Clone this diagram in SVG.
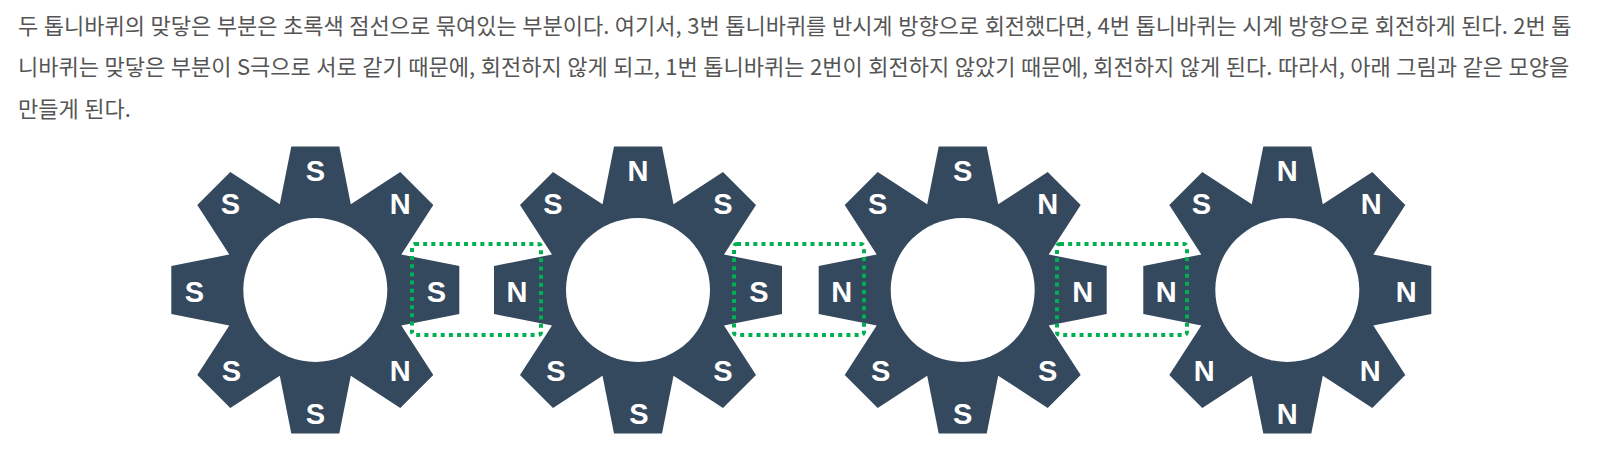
<svg xmlns="http://www.w3.org/2000/svg" width="1602" height="454" viewBox="0 0 1602 454">
<style>
.t{font-family:"Noto Sans CJK KR","Noto Sans",sans-serif;font-size:22px;word-spacing:0.6px;fill:#555}
.g{fill:#35495e}
.h{fill:#fff}
.l{font-family:"Liberation Sans",Arial,sans-serif;font-size:29px;font-weight:700;fill:#fff;text-anchor:middle}
.d{fill:none;stroke:#00b050;stroke-width:4;stroke-dasharray:4 4.17}
</style>
<defs>
<path id="gear" d="M-24,-143.5 24,-143.5 35.5,-85.7 85,-118 118,-85 86,-35.5 144,-24 144,24 86,35.5 118,85 85,118 35.5,85.7 24,143.5 -24,143.5 -35.5,85.7 -85,118 -118,85 -86,35.5 -144,24 -144,-24 -86,-35.5 -118,-85 -85,-118 -35.5,-85.7Z"/>
</defs>
<rect width="1602" height="454" fill="#fff"/>
<text class="t" x="18" y="34">두 톱니바퀴의 맞닿은 부분은 초록색 점선으로 묶여있는 부분이다. 여기서, 3번 톱니바퀴를 반시계 방향으로 회전했다면, 4번 톱니바퀴는 시계 방향으로 회전하게 된다. 2번 톱</text>
<text class="t" x="18" y="75">니바퀴는 맞닿은 부분이 S극으로 서로 같기 때문에, 회전하지 않게 되고, 1번 톱니바퀴는 2번이 회전하지 않았기 때문에, 회전하지 않게 된다. 따라서, 아래 그림과 같은 모양을</text>
<text class="t" x="18" y="117">만들게 된다.</text>
<g id="gear1" transform="translate(315.3 290)"><use href="#gear" class="g"/><circle r="72" class="h"/>
<text class="l" x="0" y="-109">S</text><text class="l" x="-85" y="-76">S</text><text class="l" x="85" y="-76">N</text><text class="l" x="-121" y="12">S</text><text class="l" x="121" y="12">S</text><text class="l" x="-84" y="91">S</text><text class="l" x="85" y="91">N</text><text class="l" x="0" y="134">S</text></g>
<g id="gear2" transform="translate(638 290)"><use href="#gear" class="g"/><circle r="72" class="h"/>
<text class="l" x="0" y="-109">N</text><text class="l" x="-85" y="-76">S</text><text class="l" x="85" y="-76">S</text><text class="l" x="-121" y="12">N</text><text class="l" x="121" y="12">S</text><text class="l" x="-82" y="91">S</text><text class="l" x="85" y="91">S</text><text class="l" x="1" y="134">S</text></g>
<g id="gear3" transform="translate(962.7 290)"><use href="#gear" class="g"/><circle r="72" class="h"/>
<text class="l" x="0" y="-109">S</text><text class="l" x="-85" y="-76">S</text><text class="l" x="85" y="-76">N</text><text class="l" x="-121" y="12">N</text><text class="l" x="120" y="12">N</text><text class="l" x="-82" y="91">S</text><text class="l" x="85" y="91">S</text><text class="l" x="0" y="134">S</text></g>
<g id="gear4" transform="translate(1287.3 290)"><use href="#gear" class="g"/><circle r="72" class="h"/>
<text class="l" x="0" y="-109">N</text><text class="l" x="-86" y="-76">S</text><text class="l" x="84" y="-76">N</text><text class="l" x="-121" y="12">N</text><text class="l" x="119" y="12">N</text><text class="l" x="-83" y="91">N</text><text class="l" x="83" y="91">N</text><text class="l" x="0" y="134">N</text></g>
<g id="connectors"><rect class="d" x="412" y="244" width="129" height="91" rx="3"/><rect class="d" x="734" y="244" width="130" height="91" rx="3"/><rect class="d" x="1057" y="244" width="130" height="91" rx="3"/></g>
</svg>
